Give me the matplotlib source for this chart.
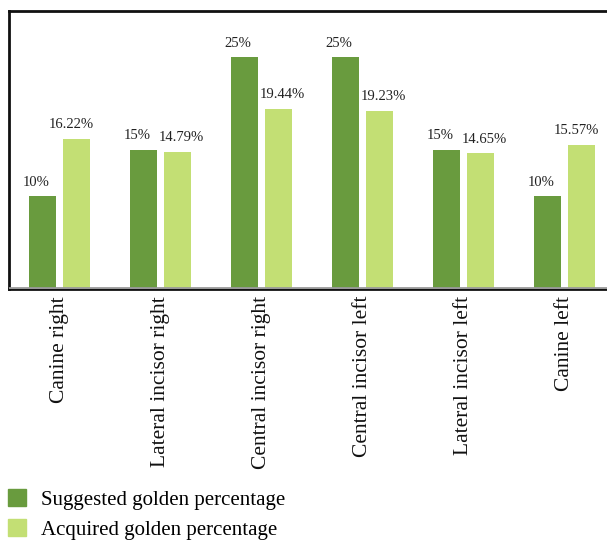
import numpy as np
import matplotlib.pyplot as plt
from matplotlib.patches import Patch

categories = ['Canine right', 'Lateral incisor right', 'Central incisor right',
              'Central incisor left', 'Lateral incisor left', 'Canine left']
suggested = [10, 15, 25, 25, 15, 10]
acquired = [16.22, 14.79, 19.44, 19.23, 14.65, 15.57]
suggested_labels = ['10%', '15%', '25%', '25%', '15%', '10%']
acquired_labels = ['16.22%', '14.79%', '19.44%', '19.23%', '14.65%', '15.57%']
series_names = ['Suggested golden percentage', 'Acquired golden percentage']

dark = '#699B3E'
light = '#C3DF74'

plt.rcParams['font.family'] = ['Liberation Serif', 'DejaVu Serif']

W, H = 607, 540
fig = plt.figure(figsize=(W / 100, H / 100), dpi=100)
# axes from x=8.5 to right edge, y from 11 to 289 (pixels from top)
ax = fig.add_axes([8.5 / W, 1 - 289 / H, (W - 8.5) / W, 278 / H])

x = np.arange(len(categories))
bw = 27 / 101
off = 17 / 101
ax.bar(x - off, suggested, bw, color=dark)
ax.bar(x + off, acquired, bw, color=light)

# data labels: suggested ones sit a bit to the left, acquired ones move
# right when they would collide with the neighbouring label
for xi, v, s in zip(x, suggested, suggested_labels):
    ax.annotate(s, (xi - off, v), xytext=(-4.7, 5.5), textcoords='offset points',
                ha='center', va='bottom', fontsize=10.5, color='#222222')
for xi, v, sv, s in zip(x, acquired, suggested, acquired_labels):
    dx = -3.6 if v > sv else 3.0
    ax.annotate(s, (xi + off, v), xytext=(dx, 5.5), textcoords='offset points',
                ha='center', va='bottom', fontsize=10.5, color='#222222')

ax.set_xlim(-0.505, -0.505 + (W - 8.5) / 101)
ax.set_ylim(0, 30)
ax.set_yticks([])
ax.set_xticks(x)
ax.set_xticklabels(categories, rotation=90, fontsize=15.5, color='#111111')
ax.tick_params(axis='x', length=0, pad=5)

for side in ['left', 'top', 'bottom']:
    ax.spines[side].set_linewidth(2)
    ax.spines[side].set_color('#111111')
ax.spines['right'].set_visible(False)
ax.axhline(0.12, color='#999999', lw=2, zorder=3)

handles = [Patch(color=dark), Patch(color=light)]
fig.legend(handles, series_names, loc='lower left', bbox_to_anchor=(-0.007, -0.023),
           frameon=False, fontsize=15, handlelength=0.87, handleheight=0.87,
           handletextpad=0.7, labelspacing=0.45, borderaxespad=0.2)

fig.savefig('out.png', dpi=100)
